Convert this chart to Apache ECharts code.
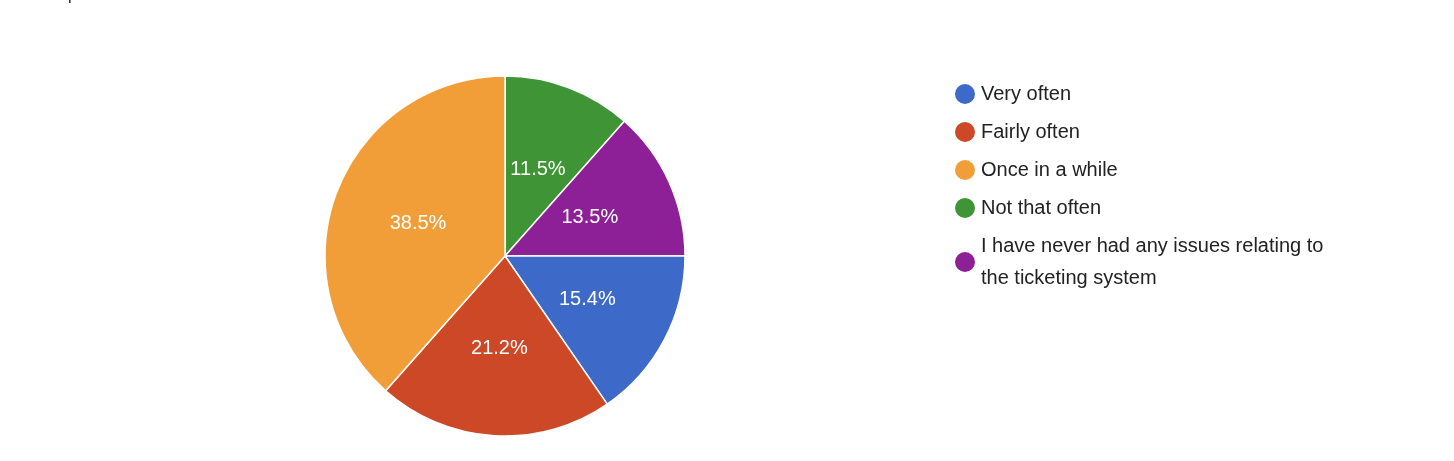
<!DOCTYPE html>
<html>
<head>
<meta charset="utf-8">
<script src="https://cdn.jsdelivr.net/npm/echarts@6/dist/echarts.min.js"></script>
<style>html,body{margin:0;padding:0;background:#fff}#main{width:1454px;height:461px}</style>
</head>
<body>
<div id="main"></div>
<script>
// slice order as drawn, clockwise from 12 o'clock
var sliceNames = ['Not that often', 'I have never had any issues relating to the ticketing system', 'Very often', 'Fairly often', 'Once in a while']
var sliceCounts = [6, 7, 8, 11, 20]
var sliceColors = ['#3f9535', '#8e2097', '#3d69c9', '#cc4827', '#f29e38']
var legendOrder = ['Very often', 'Fairly often', 'Once in a while', 'Not that often', 'I have never had any issues relating to the ticketing system']

var chart = echarts.init(document.getElementById('main'))
var total = sliceCounts.reduce(function (a, b) { return a + b }, 0)
var data = sliceNames.map(function (n, i) {
  return { name: n, value: sliceCounts[i], itemStyle: { color: sliceColors[i] } }
})
chart.setOption({
  animation: false,
  graphic: [{
    type: 'text', left: 24, top: -12,
    style: { text: '52 responses', font: '16px Roboto, Arial, sans-serif', fill: '#202124' }
  }],
  legend: {
    orient: 'vertical',
    left: 948, top: 73,
    data: legendOrder,
    icon: 'circle',
    itemWidth: 22, itemHeight: 22,
    itemGap: 6,
    textStyle: { fontSize: 20, lineHeight: 32, color: '#222', fontFamily: 'Arial, Liberation Sans, sans-serif' },
    formatter: function (n) {
      return n.replace(' relating to the', ' relating to\nthe')
    }
  },
  series: [{
    type: 'pie',
    center: [505, 256],
    radius: 180,
    startAngle: 90,
    clockwise: true,
    data: data,
    itemStyle: { borderColor: '#fff', borderWidth: 1.5 },
    label: {
      position: 'inside',
      color: '#fff',
      fontSize: 20,
      fontFamily: 'Arial, Liberation Sans, sans-serif',
      formatter: function (p) { return (p.value / total * 100).toFixed(1) + '%' }
    },
    labelLine: { show: false }
  }]
})
</script>
</body>
</html>
